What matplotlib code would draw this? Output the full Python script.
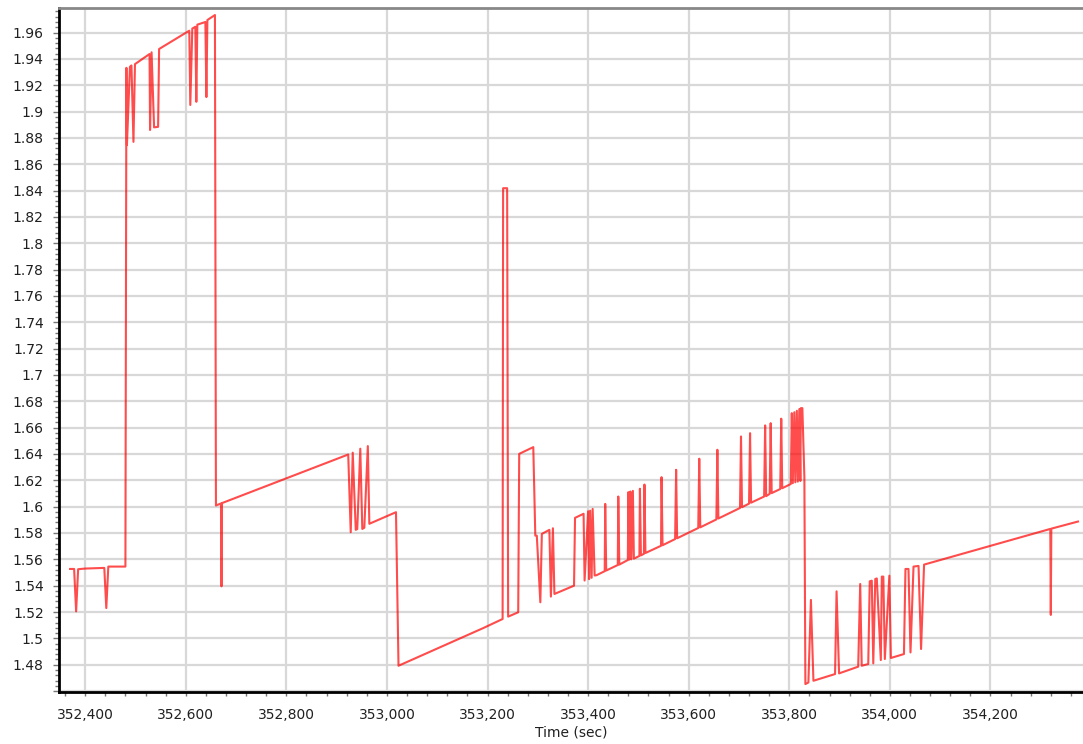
import matplotlib
matplotlib.use('Agg')
import matplotlib.pyplot as plt
from matplotlib.ticker import MultipleLocator, FuncFormatter

# Tempo (s) e valor
time_sec = [
    352370, 352378, 352382, 352386, 352400, 352438, 352442, 352446, 352480,
    352482, 352483, 352489, 352492, 352496, 352499, 352528, 352529, 352532,
    352537, 352545, 352547, 352607, 352609, 352613, 352619, 352621, 352623,
    352639, 352641, 352643, 352658, 352660, 352670, 352671, 352672,
    352923, 352928, 352932, 352938, 352941, 352947, 352951, 352955, 352962,
    352965, 353018, 353023, 353192, 353230, 353231, 353239, 353241, 353261,
    353263, 353291, 353295, 353298, 353305, 353308, 353323, 353326, 353330,
    353333, 353372, 353374, 353391, 353393, 353400, 353402, 353404, 353407,
    353409, 353413, 353417,
    353433, 353434, 353436, 353459, 353460, 353462,
    353479, 353480, 353482, 353484, 353486, 353489, 353491,
    353502, 353503, 353505, 353511, 353512, 353514,
    353545, 353546, 353548, 353573, 353575, 353577,
    353619, 353621, 353623, 353655, 353657, 353659,
    353702, 353704, 353706, 353720, 353722, 353724,
    353750, 353752, 353754, 353761, 353763, 353765,
    353782, 353784, 353786,
    353803, 353805, 353807, 353810, 353812, 353815, 353817, 353820, 353822,
    353823, 353826, 353830, 353832,
    353838, 353843, 353848, 353891, 353894, 353899, 353937, 353941, 353944,
    353957, 353960, 353964, 353967, 353971, 353974, 353982, 353984, 353987,
    353990, 353999, 354002, 354028, 354031, 354037, 354041, 354047, 354057,
    354062, 354068, 354319, 354320, 354321, 354374,
]
value = [
    1.5527, 1.5527, 1.5205, 1.5525, 1.5530, 1.5535, 1.5230, 1.5545, 1.5545,
    1.9332, 1.8745, 1.9340, 1.9350, 1.8770, 1.9360, 1.9437, 1.8860, 1.9450,
    1.8880, 1.8884, 1.9475, 1.9614, 1.9050, 1.9630, 1.9644, 1.9074, 1.9660,
    1.9680, 1.9110, 1.9695, 1.9733, 1.6009, 1.6024, 1.5395, 1.6027,
    1.6396, 1.5806, 1.6410, 1.5824, 1.5830, 1.6440, 1.5831, 1.5840, 1.6460,
    1.5870, 1.5958, 1.4792, 1.5079, 1.5147, 1.8418, 1.8418, 1.5165, 1.5198,
    1.6401, 1.6452, 1.5780, 1.5780, 1.5274, 1.5793, 1.5824, 1.5317, 1.5836,
    1.5337, 1.5400, 1.5915, 1.5946, 1.5439, 1.5965, 1.5450, 1.5970, 1.5460,
    1.5983, 1.5477, 1.5480,
    1.5510, 1.6021, 1.5515, 1.5557, 1.6077, 1.5560,
    1.5595, 1.6110, 1.5598, 1.6115, 1.5600, 1.6120, 1.5605,
    1.5626, 1.6136, 1.5630, 1.5642, 1.6168, 1.5648,
    1.5703, 1.6224, 1.5707, 1.5754, 1.6280, 1.5760,
    1.5838, 1.6364, 1.5843, 1.5903, 1.6432, 1.5910,
    1.5990, 1.6533, 1.5996, 1.6023, 1.6558, 1.6030,
    1.6077, 1.6617, 1.6080, 1.6097, 1.6634, 1.6103,
    1.6134, 1.6668, 1.6140,
    1.6172, 1.6710, 1.6178, 1.6717, 1.6185, 1.6728, 1.6190, 1.6741, 1.6195,
    1.6748, 1.6748, 1.6224, 1.4653,
    1.4665, 1.5292, 1.4678, 1.4729, 1.5357, 1.4734, 1.4785, 1.5413, 1.4792,
    1.4805, 1.5433, 1.5438, 1.4810, 1.5451, 1.5455, 1.4835, 1.5469, 1.5469,
    1.4843, 1.5476, 1.4851, 1.4881, 1.5527, 1.5527, 1.4893, 1.5545, 1.5550,
    1.4919, 1.5560, 1.5831, 1.5178, 1.5833, 1.5887,
]

fig = plt.figure(figsize=(10.83, 7.44), dpi=100)
ax = fig.add_axes([0.0545, 0.0703, 0.9455, 0.9196])

ax.plot(time_sec, value, color='#ff0000', alpha=0.7, lw=1.5)

ax.set_xlim(352348, 354384)
ax.set_ylim(1.4595, 1.979)

ax.xaxis.set_major_locator(MultipleLocator(200))
ax.xaxis.set_minor_locator(MultipleLocator(40))
ax.yaxis.set_major_locator(MultipleLocator(0.02))
ax.yaxis.set_minor_locator(MultipleLocator(0.004))

ax.xaxis.set_major_formatter(FuncFormatter(lambda v, p: '{:,.0f}'.format(v)))
# a referência não mostra o rótulo 1.46 no fundo do eixo
ax.yaxis.set_major_formatter(FuncFormatter(lambda v, p: '' if v < 1.47 else '%g' % round(v, 2)))

ax.grid(True, which='major', color='#d8d8d8', lw=1.6)
ax.set_axisbelow(True)

ax.tick_params(axis='both', which='both', colors='#777777', labelcolor='#202020',
               labelsize=10)
ax.tick_params(axis='x', which='major', length=3, width=1, pad=9)
ax.tick_params(axis='x', which='minor', length=3, width=1)
ax.tick_params(axis='y', which='major', length=4, width=1, pad=7)
ax.tick_params(axis='y', which='minor', length=3, width=1)

ax.spines['left'].set_color('black')
ax.spines['left'].set_linewidth(2)
ax.spines['bottom'].set_color('black')
ax.spines['bottom'].set_linewidth(2)
ax.spines['top'].set_color('#888888')
ax.spines['top'].set_linewidth(2)
ax.spines['right'].set_visible(False)

ax.set_xlabel('Time (sec)', fontsize=10, color='#202020', labelpad=2)

plt.savefig('out.png', dpi=100)
